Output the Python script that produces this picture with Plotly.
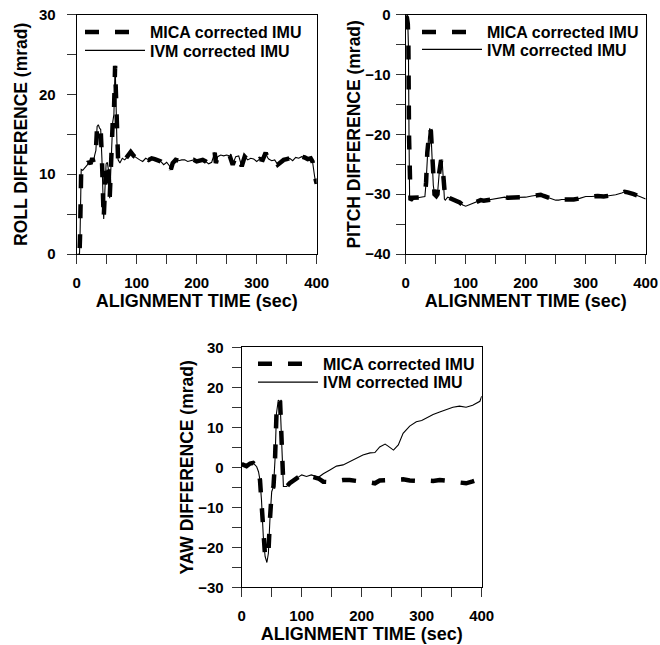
import plotly.graph_objects as go

# ---------------- DATA ----------------
roll_t = [0, 2, 4, 5.5, 6.5, 7.5, 10, 14, 18, 20, 23, 26, 28, 30, 32, 34, 36, 38, 40, 42,
          44, 45, 47, 49, 51, 53, 55, 56, 58, 60, 62, 63, 64, 65, 67, 69, 72, 76, 80, 85,
          90, 95, 100, 105, 110, 115, 120, 125, 130, 135, 140, 145, 150, 155, 157, 160, 165, 170, 175, 180,
          185, 190, 195, 200, 205, 210, 215, 220, 225, 230, 232, 235, 240, 245, 250, 255, 260, 265, 270, 275,
          280, 285, 290, 295, 300, 305, 310, 315, 318, 320, 325, 330, 335, 340, 345, 350, 355, 360, 365, 370,
          375, 380, 385, 390, 393, 396, 398, 400]
roll_ivm = [0.0, -0.8, -1.5, 2.0, 8.0, 10.6, 10.5, 10.8, 11.2, 11.6, 11.3, 12.0, 11.6, 12.4, 13.0, 16.0, 16.2, 15.8, 15.6, 12.0,
            6.0, 4.4, 8.0, 11.3, 11.5, 10.5, 7.0, 9.0, 15.0, 16.5, 17.5, 21.5, 23.6, 21.0, 14.0, 11.8, 11.4, 12.0, 11.8, 12.2,
            12.8, 12.3, 12.0, 11.8, 11.6, 12.0, 11.8, 12.0, 11.9, 11.8, 11.6, 11.2, 11.5, 11.0, 10.6, 11.4, 11.8, 11.7, 11.8, 11.8,
            11.6, 11.7, 11.8, 11.6, 11.7, 11.8, 11.6, 11.3, 11.5, 12.7, 11.4, 12.2, 12.4, 12.3, 12.4, 12.3, 11.2, 12.2, 12.3, 11.0,
            12.2, 11.8, 12.0, 11.9, 11.6, 11.9, 11.8, 12.7, 12.1, 11.9, 11.7, 11.8, 11.2, 11.6, 11.8, 11.9, 12.0, 11.7, 12.1, 12.0,
            12.2, 12.1, 11.9, 12.0, 11.6, 10.0, 9.0, 8.8]
roll_mica = list(roll_ivm)  # the two roll curves coincide

pitch_t = [0, 2, 3.5, 4.5, 5.5, 6.5, 8, 12, 20, 28, 32, 34, 36, 38, 40, 42, 44, 46, 48, 51,
           53, 55, 57, 59, 61, 63, 64.5, 66, 70, 75, 80, 85, 90, 95, 100, 105, 110, 115, 120, 125,
           130, 135, 140, 150, 160, 165, 170, 180, 190, 200, 210, 220, 225, 230, 240, 250, 255, 260, 270, 280,
           290, 300, 310, 320, 330, 340, 350, 360, 365, 370, 375, 380, 390, 400]
pitch_ivm = [-0.2, -0.5, -1.5, -5.0, -20.0, -30.5, -31.0, -30.6, -30.6, -30.5, -30.4, -28.0, -23.0, -20.5, -19.0, -19.5, -24.0, -28.5, -30.0, -30.3,
             -30.0, -27.0, -25.0, -24.3, -24.8, -28.0, -30.8, -31.0, -30.5, -30.7, -30.9, -31.0, -31.4, -31.8, -32.0, -31.8, -31.6, -31.3, -31.2, -31.0,
             -31.1, -31.0, -30.9, -30.7, -30.6, -30.5, -30.6, -30.6, -30.5, -30.5, -30.3, -30.1, -30.1, -30.3, -30.7, -31.0, -31.0, -30.9, -30.9, -30.9,
             -30.7, -30.4, -30.4, -30.3, -30.4, -30.3, -30.1, -29.8, -29.6, -29.7, -29.8, -30.0, -30.4, -30.8]
pitch_mica = list(pitch_ivm)  # the two pitch curves coincide

yaw_t = [0, 8, 14, 19, 25, 28, 30.5, 33, 36, 39, 42, 44.5, 47, 49, 50, 53, 55.5, 58, 61, 64,
         66.5, 68.5, 69.5, 75, 80, 92, 100, 108, 116, 128, 136, 147, 158, 169, 180, 191, 202, 214, 222, 230,
         239, 244, 253, 261, 269, 280, 291, 300, 311, 319, 330, 341, 352, 363, 374, 385, 392, 397, 400]
yaw_ivm = [0.8, 0.3, 0.95, 1.1, 0.15, -1.1, -3.2, -8.2, -17.3, -22.3, -23.8, -21.5, -13.2, -8.2, -6.1, -4.8, 1.8, 13.5, 16.8, 16.4,
           7.6, -2.3, -4.8, -4.8, -4.0, -2.7, -1.9, -2.3, -1.9, -2.5, -1.6, -0.65, 0.3, 0.6, 1.4, 2.2, 3.1, 3.6, 3.7, 5.1,
           5.8, 5.3, 4.3, 5.6, 8.5, 10.3, 11.4, 11.7, 12.6, 13.2, 13.8, 14.5, 15.0, 15.3, 15.0, 15.5, 16.2, 16.5, 17.8]
yaw_mica = [0.8, 0.3, 0.95, 1.1, 0.15, -1.1, -3.2, -8.2, -17.3, -22.3, -22.5, -21.5, -13.2, -8.2, -6.1, -4.8, 1.8, 13.5, 16.8, 16.4,
            7.6, -2.3, -4.8, -4.8, -4.0, -2.7, -1.9, -2.3, -2.3, -2.8, -3.6, -3.7, -3.4, -3.2, -3.2, -3.3, -3.6, -3.8, -4.0, -3.3,
            -3.1, -3.2, -3.1, -3.1, -3.0, -3.3, -3.4, -3.2, -3.3, -3.4, -3.2, -3.3, -3.5, -3.8, -4.0, -3.5, -3.0, -2.9, -2.0]

legend_names = ["MICA corrected IMU", "IVM corrected IMU"]
x_title = "ALIGNMENT TIME (sec)"
y_titles = ["ROLL DIFFERENCE (mrad)", "PITCH DIFFERENCE (mrad)", "YAW DIFFERENCE (mrad)"]

# ---------------- FIGURE ----------------
W, H = 660, 645
FONT = "Liberation Sans, Arial, Helvetica, sans-serif"


def fx(px):
    return px / W


def fy(py):
    return 1 - py / H


fig = go.Figure()

panels = [
    (roll_t, roll_mica, roll_ivm, "x", "y", "legend", "legend2"),
    (pitch_t, pitch_mica, pitch_ivm, "x2", "y2", "legend3", "legend4"),
    (yaw_t, yaw_mica, yaw_ivm, "x3", "y3", "legend5", "legend6"),
]
for t, mica, ivm, xa, ya, lg_m, lg_i in panels:
    fig.add_trace(go.Scatter(x=t, y=ivm, mode="lines", name=legend_names[1], xaxis=xa, yaxis=ya,
                             legend=lg_i, showlegend=True, line=dict(color="black", width=1.1)))
    fig.add_trace(go.Scatter(x=t, y=mica, mode="lines", name=legend_names[0], xaxis=xa, yaxis=ya,
                             legend=lg_m, showlegend=True,
                             line=dict(color="black", width=4.5, dash="14px,16px")))

domains = {
    "1": ([fx(76.7), fx(316.7)], [fy(254), fy(14.7)]),
    "2": ([fx(405.7), fx(645.7)], [fy(254), fy(14.7)]),
    "3": ([fx(241.7), fx(481.7)], [fy(587.3), fy(347.3)]),
}
yranges = {"1": [0, 30], "2": [-40, 0], "3": [-30, 30]}
ylab_standoff = {"1": 8, "2": 2, "3": 5}
ytitle_standoff = {"1": 6, "2": 0, "3": 0}
for i, key in enumerate(["1", "2", "3"]):
    xd, yd = domains[key]
    sfx = "" if key == "1" else key
    common = dict(showline=True, linecolor="black", linewidth=1, mirror=True,
                  ticks="outside", ticklen=9, tickwidth=1, tickcolor="#333",
                  showgrid=False, zeroline=False, automargin=False,
                  tickfont=dict(family=FONT, size=15, color="black", weight="bold"))
    fig.layout["xaxis" + sfx] = dict(
        domain=xd, range=[0, 400], dtick=100, tick0=0, anchor="y" + sfx,
        minor=dict(dtick=50, ticks="outside", ticklen=9, tickwidth=1, tickcolor="#333"),
        title=dict(text=x_title, font=dict(family=FONT, size=18, color="black", weight="bold"), standoff=4),
        ticklabelstandoff=6,
        **common)
    fig.layout["yaxis" + sfx] = dict(
        domain=yd, range=yranges[key], dtick=10, anchor="x" + sfx,
        minor=dict(dtick=5, ticks="outside", ticklen=9, tickwidth=1, tickcolor="#333"),
        title=dict(text=y_titles[i], font=dict(family=FONT, size=17.5, color="black", weight="bold"),
                   standoff=ytitle_standoff[key]),
        ticklabelstandoff=ylab_standoff[key],
        **common)

leg_common = dict(xanchor="left", yanchor="top", bgcolor="rgba(0,0,0,0)", borderwidth=0,
                  font=dict(family=FONT, size=16, color="black", weight="bold"),
                  itemwidth=60)
# legend row centres (px) in the reference: roll 31.7/50, pitch 31.7/49, yaw 363.3/381.7
OFF = 16.5
fig.update_layout(
    template="none",
    showlegend=True,
    width=W, height=H,
    margin=dict(l=0, r=0, t=0, b=0),
    paper_bgcolor="white", plot_bgcolor="white",
    font=dict(family=FONT, color="black"),
    legend=dict(x=fx(80), y=fy(31.7 - OFF), **leg_common),
    legend2=dict(x=fx(80), y=fy(50 - OFF), **leg_common),
    legend3=dict(x=fx(417), y=fy(31.7 - OFF), **leg_common),
    legend4=dict(x=fx(417), y=fy(49 - OFF), **leg_common),
    legend5=dict(x=fx(253), y=fy(363.3 - OFF), **leg_common),
    legend6=dict(x=fx(253), y=fy(381.7 - OFF), **leg_common),
)

fig.write_html("out.html")
